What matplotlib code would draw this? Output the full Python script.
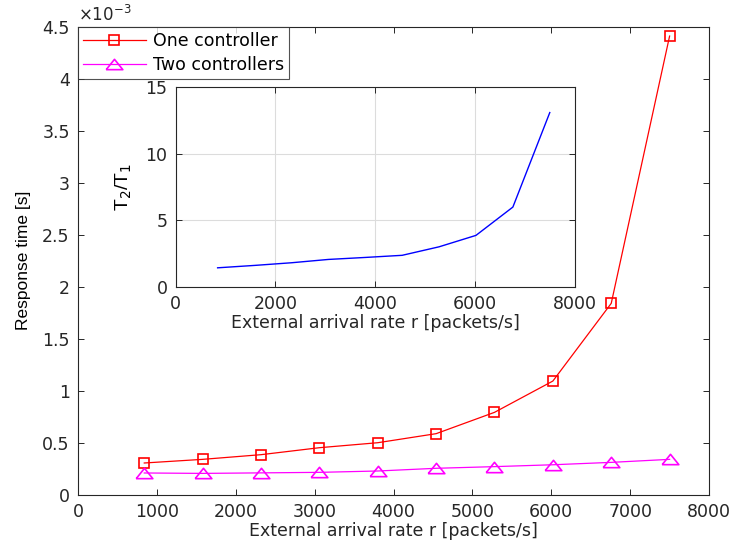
import numpy as np
import matplotlib.pyplot as plt
from matplotlib.ticker import FuncFormatter

plt.rcParams['font.family'] = ['DejaVu Sans']
plt.rcParams['font.size'] = 12.5

# external arrival rate [packets/s]
rate = [840, 1580, 2320, 3060, 3800, 4540, 5280, 6020, 6760, 7500]
# response time, units of 1e-3 s
one_ctrl = [0.305, 0.340, 0.385, 0.452, 0.500, 0.587, 0.792, 1.093, 1.840, 4.410]
two_ctrl = [0.209, 0.205, 0.210, 0.215, 0.228, 0.254, 0.270, 0.288, 0.311, 0.340]
# T2/T1 ratio for the inset
ratio = [1.42, 1.60, 1.80, 2.05, 2.20, 2.36, 3.00, 3.86, 5.99, 13.1]

axcol = '#262626'
tri = [(-1, -0.62), (1, -0.62), (0, 0.62), (-1, -0.62)]

fig = plt.figure(figsize=(7.34, 5.44), dpi=100)
ax = fig.add_axes([0.1063, 0.0906, 0.8597, 0.8603])

ax.plot(rate, one_ctrl, '-', color='#ff0000', lw=0.9, marker='s', ms=7,
        mfc='none', mec='#ff0000', mew=1.2, label='One controller')
ax.plot(rate, two_ctrl, '-', color='#ff00ff', lw=0.9, marker=tri, ms=12,
        mfc='none', mec='#ff00ff', mew=1.2, label='Two controllers')

ax.set_xlim(0, 8000)
ax.set_ylim(0, 4.5)
ax.set_xticks(np.arange(0, 8001, 1000))
ax.set_yticks(np.arange(0, 4.51, 0.5))
ax.yaxis.set_major_formatter(FuncFormatter(lambda v, p: f'{v:g}'))
ax.set_xlabel('External arrival rate r [packets/s]', color=axcol, labelpad=1)
ax.set_ylabel('Response time [s]', family='Liberation Sans', fontsize=12.5,
              color='black', labelpad=8)
ax.text(0.0, 1.004, r'$\times10^{-3}$', transform=ax.transAxes,
        ha='left', va='bottom', color=axcol, fontsize=12)

ax.tick_params(direction='in', top=True, right=True, length=4, pad=6,
               width=0.7, colors=axcol, labelcolor=axcol)
for s in ax.spines.values():
    s.set_color(axcol)
    s.set_linewidth(0.8)

leg = ax.legend(loc='upper left', bbox_to_anchor=(0, 1), borderaxespad=0,
                fancybox=False, edgecolor=axcol, handlelength=3.6,
                handletextpad=0.4, labelspacing=0.35, borderpad=0.3,
                fontsize=12.5)
leg.get_frame().set_linewidth(0.8)

# inset: ratio of response times
ins = fig.add_axes([0.2394, 0.473, 0.5436, 0.3665])
ins.plot(rate, ratio, color='#0000ff', lw=1.0)
ins.set_xlim(0, 8000)
ins.set_ylim(0, 15)
ins.set_xticks(np.arange(0, 8001, 2000))
ins.set_yticks([0, 5, 10, 15])
ins.grid(True, color='#dcdcdc', lw=0.8)
ins.set_axisbelow(True)
ins.set_xlabel('External arrival rate r [packets/s]', color=axcol, labelpad=1)
ins.set_ylabel(r'T$_2$/T$_1$', family='Liberation Sans', fontsize=14,
               color='black', labelpad=8)
ins.tick_params(direction='in', top=True, right=True, length=4, pad=6,
                width=0.7, colors=axcol, labelcolor=axcol)
for s in ins.spines.values():
    s.set_color(axcol)
    s.set_linewidth(0.8)

fig.savefig('out.png', dpi=100)
